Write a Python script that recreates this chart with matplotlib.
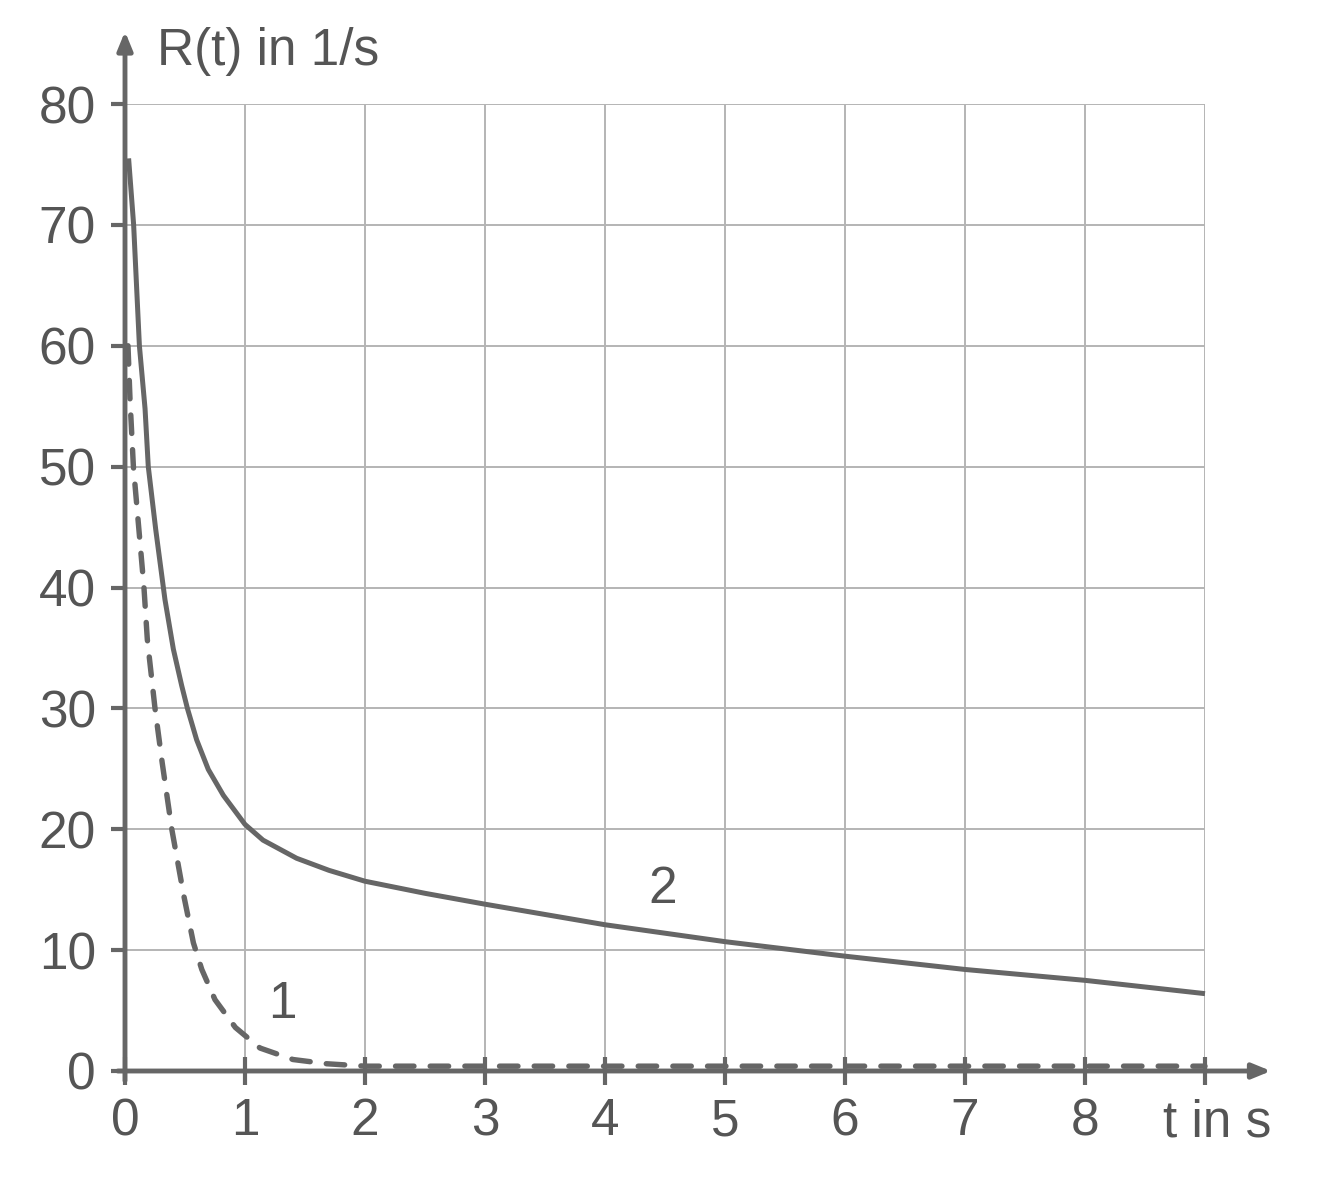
import matplotlib
matplotlib.use("Agg")
import matplotlib.pyplot as plt

plt.rcParams["font.family"] = ["Liberation Sans", "DejaVu Sans"]

# curve 1 (dashed) and curve 2 (solid)
t1 = [0.025, 0.042, 0.07, 0.158, 0.186, 0.25, 0.31, 0.39, 0.49, 0.57, 0.64, 0.75, 0.92, 1.125, 1.4, 1.68, 2.0, 9.0]
r1 = [60.0, 55.5, 50.0, 40.0, 35.7, 30.0, 25.5, 20.0, 14.5, 10.6, 8.4, 5.9, 3.6, 1.9, 0.95, 0.6, 0.4, 0.4]

t2 = [0.03, 0.072, 0.12, 0.167, 0.194, 0.256, 0.333, 0.403, 0.472, 0.52, 0.597, 0.694, 0.82, 1.0,
      1.15, 1.43, 1.7, 2.0, 2.5, 3.0, 4.0, 5.0, 6.0, 7.0, 8.0, 9.0]
r2 = [75.5, 70.0, 60.0, 54.8, 50.0, 44.8, 39.0, 34.9, 31.9, 30.0, 27.4, 24.95, 22.8, 20.4,
      19.1, 17.6, 16.6, 15.7, 14.7, 13.8, 12.1, 10.7, 9.5, 8.4, 7.5, 6.4]

x_ticks = [0, 1, 2, 3, 4, 5, 6, 7, 8]
y_ticks = [0, 10, 20, 30, 40, 50, 60, 70, 80]

LINE = "#666666"
TEXT = "#555555"
GRID = "#b4b4b4"
FS = 37

fig = plt.figure(figsize=(13.31, 11.81), dpi=100)
ax = fig.add_axes([125 / 1331, 1 - 1071 / 1181, 1080 / 1331, 967 / 1181])
ax.set_xlim(0, 9)
ax.set_ylim(0, 80)

# grid
for x in range(1, 10):
    ax.plot([x, x], [0, 80], color=GRID, lw=1.4, zorder=1)
for y in range(10, 90, 10):
    ax.plot([0, 9], [y, y], color=GRID, lw=1.4, zorder=1)

for s in ax.spines.values():
    s.set_visible(False)

# axes with arrows
ax.annotate("", xy=(9.55, 0), xytext=(-0.06, 0), xycoords="data",
            arrowprops=dict(arrowstyle="-|>,head_length=1.1,head_width=0.45",
                            color=LINE, lw=3.5, shrinkA=0, shrinkB=0),
            annotation_clip=False, zorder=5)
ax.annotate("", xy=(0, 86.0), xytext=(0, -0.8), xycoords="data",
            arrowprops=dict(arrowstyle="-|>,head_length=1.1,head_width=0.45",
                            color=LINE, lw=3.5, shrinkA=0, shrinkB=0),
            annotation_clip=False, zorder=5)

# ticks
ax.set_xticks(x_ticks + [9])
ax.set_xticklabels([str(v) for v in x_ticks] + [""])
ax.set_yticks(y_ticks)
ax.set_yticklabels([str(v) for v in y_ticks])
ax.tick_params(axis="both", width=3, color=LINE, labelcolor=TEXT, labelsize=FS)
ax.tick_params(axis="x", direction="inout", length=20, pad=9)
ax.tick_params(axis="y", direction="out", length=10, pad=11)

# curves
ax.plot(t2, r2, color=LINE, lw=3.6, solid_joinstyle="round", solid_capstyle="butt",
        zorder=4, clip_on=False)
ax.plot(t1, r1, color=LINE, lw=3.9, ls=(0, (3.4, 3.0)), dash_capstyle="round",
        zorder=4, clip_on=False)

ax.text(0.267, 84.35, "R(t) in 1/s", fontsize=FS, color=TEXT, va="center", ha="left",
        clip_on=False)
ax.text(8.65, -4.3, "t in s", fontsize=FS, color=TEXT, va="center", ha="left",
        clip_on=False)
ax.text(4.48, 15.0, "2", fontsize=FS, color=TEXT, va="center", ha="center")
ax.text(1.31, 5.5, "1", fontsize=FS, color=TEXT, va="center", ha="center")

fig.savefig("out.png", dpi=100, facecolor="white")
